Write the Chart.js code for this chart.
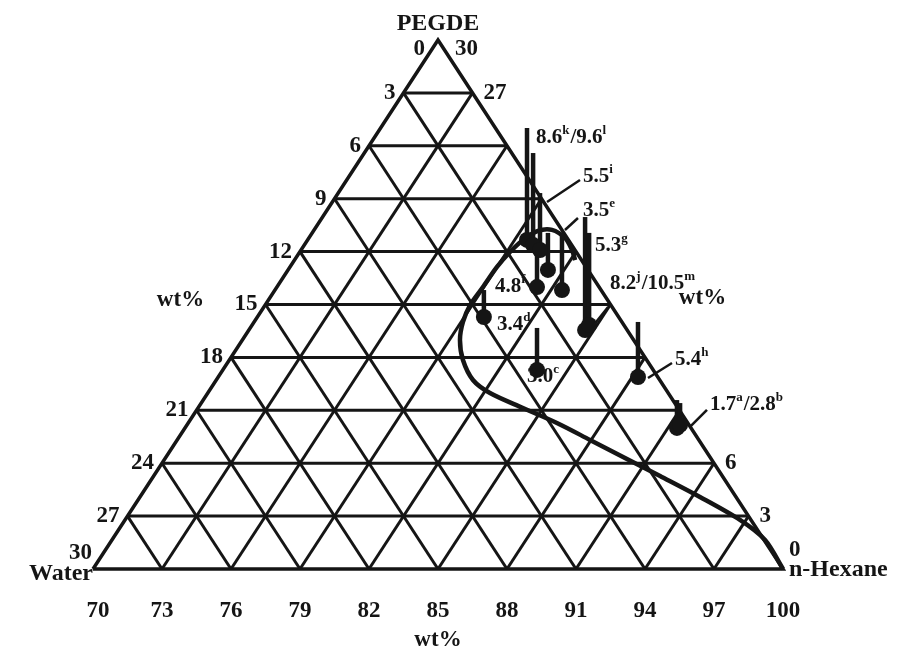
<!DOCTYPE html>
<html><head><meta charset="utf-8">
<script src="https://cdn.jsdelivr.net/npm/chart.js@4/dist/chart.umd.min.js"></script>
<style>html,body{margin:0;padding:0;background:#fff}canvas{display:block}</style>
</head><body>
<canvas id="c" width="907" height="656"></canvas>
<script>
// ---- data (wt%) ----
const gridLevels = [3, 6, 9, 12, 15, 18, 21, 24, 27];
const waterTicks = [0, 3, 6, 9, 12, 15, 18, 21, 24, 27, 30];
const pegdeTicks = [30, 27, 6, 3, 0];
const hexaneTicks = [70, 73, 76, 79, 82, 85, 88, 91, 94, 97, 100];

// binodal curve (n-Hexane wt%, PEGDE wt%)
const curveHexane = [100, 98.4, 96.74, 94.35, 92.02, 89.98, 87.95, 86.03, 84.13, 82.27, 81.16, 80.16, 79.46, 79.08, 78.91, 78.96, 79.0, 79.14, 79.37, 79.76, 80.34, 81.14, 81.78, 82.2];
const curvePEGDE  = [0, 1.64, 2.78, 4.08, 5.27, 6.30, 7.32, 8.28, 9.13, 9.98, 10.72, 11.85, 12.99, 14.01, 14.97, 15.99, 17.13, 17.98, 18.66, 19.17, 19.23, 18.77, 18.09, 17.52];

// experimental points
const pointNames   = ['8.6k', '9.6l', '5.5i', '5.3g', '3.5e', '4.8f', '8.2j', '10.5m', '3.4d', '3.0c', '5.4h', '1.7a', '2.8b'];
const pointHexane  = [79.54, 79.95, 80.39, 81.30, 82.48, 81.31, 84.62, 84.65, 79.85, 83.66, 88.25, 91.39, 91.44];
const pointPEGDE   = [18.66, 18.37, 18.09, 16.96, 15.82, 15.99, 13.55, 13.84, 14.29, 11.29, 10.89, 8.00, 8.17];
const barTopPEGDE  = [25.01, 23.59, 21.32, 19.06, 19.06, 18.66, 19.96, 19.06, 15.82, 13.67, 14.01, 9.58, 9.41];

// ---- rendering ----
const FONT = '"Liberation Serif", "Times New Roman", serif';
const INK = '#151515';
function toXY(h, p) { return { x: h - 70 + p / 2, y: p }; }

const layers = []; // in drawing order (bottom first)
function line(pts, w, extra) {
  layers.push(Object.assign({ data: pts, showLine: true, borderColor: INK, backgroundColor: INK,
    borderWidth: w, pointRadius: 0, tension: 0, clip: false, fill: false }, extra || {}));
}
// grid
gridLevels.forEach(v => {
  line([toXY(70, v), toXY(100 - v, v)], 3);          // PEGDE constant
  line([toXY(70 + v, 0), toXY(70 + v, 30 - v)], 3);  // hexane constant
  line([toXY(100 - v, 0), toXY(70, 30 - v)], 3);     // water constant
});
// border
line([toXY(70, 0), toXY(100, 0), toXY(70, 30), toXY(70, 0)], 3.5);
// curve
line(curveHexane.map((h, i) => toXY(h, curvePEGDE[i])), 4.5, { tension: 0.3 });
// bars
pointHexane.forEach((h, i) => {
  const a = toXY(h, pointPEGDE[i]);
  line([a, { x: a.x, y: barTopPEGDE[i] }], 4.5);
});
// dots
layers.push({ data: pointHexane.map((h, i) => toXY(h, pointPEGDE[i])), showLine: false,
  pointRadius: 8, pointBackgroundColor: INK, pointBorderColor: INK, borderWidth: 0, clip: false });

// labels anchored to points: [text, point index, dx, dy, leader]
const dataLabels = [
  ['8.6^k/9.6^l', 0, 9, -102, null],
  ['5.5^i', 2, 43, -73, [7, -48, 40, -70]],
  ['3.5^e', 4, 21, -79, [3, -60, 16, -72]],
  ['5.3^g', 6, 10, -84, null],
  ['4.8^f', 5, -42, 0, null],
  ['8.2^j/10.5^m', 6, 25, -46, [7, -3, 23, -23]],
  ['3.4^d', 8, 13, 8, null],
  ['3.0^c', 9, -10, 7, null],
  ['5.4^h', 10, 37, -17, [10, 1, 34, -14]],
  ['1.7^a/2.8^b', 11, 33, -23, [13, -1, 30, -18]]
];

function drawRich(ctx, text, x, y, size) {
  let cx = x;
  for (let i = 0; i < text.length; i++) {
    if (text[i] === '^') {
      const ch = text[++i];
      ctx.font = 'bold ' + Math.round(size * 0.6) + 'px ' + FONT;
      ctx.fillText(ch, cx, y - size * 0.35);
      cx += ctx.measureText(ch).width + 1;
    } else {
      ctx.font = 'bold ' + size + 'px ' + FONT;
      ctx.fillText(text[i], cx, y);
      cx += ctx.measureText(text[i]).width;
    }
  }
}

const textPlugin = {
  id: 'ternText',
  afterDraw(chart) {
    const ctx = chart.ctx, xs = chart.scales.x, ys = chart.scales.y;
    const px = (h, p) => { const q = toXY(h, p); return [xs.getPixelForValue(q.x), ys.getPixelForValue(q.y)]; };
    ctx.save();
    ctx.fillStyle = INK; ctx.strokeStyle = INK;
    ctx.textBaseline = 'middle';
    const num = 'bold 23px ' + FONT, word = 'bold 24px ' + FONT;
    // left: water
    ctx.font = num; ctx.textAlign = 'right';
    waterTicks.forEach(w => {
      const [x, y] = px(70, 30 - w);
      if (w === 0) ctx.fillText(String(w), x - 13, y + 9);
      else if (w === 30) ctx.fillText(String(w), x - 1, y - 16);
      else ctx.fillText(String(w), x - 8, y);
    });
    // right: PEGDE
    ctx.textAlign = 'left';
    pegdeTicks.forEach(p => {
      const [x, y] = px(100 - p, p);
      if (p === 30) ctx.fillText(String(p), x + 17, y + 9);
      else if (p === 0) ctx.fillText(String(p), x + 6, y - 19);
      else ctx.fillText(String(p), x + 11, y);
    });
    // bottom: hexane
    ctx.textAlign = 'center';
    hexaneTicks.forEach(h => {
      const [x, y] = px(h, 0);
      ctx.fillText(String(h), x + (h === 70 ? 5 : 0), y + 42);
    });
    // names
    ctx.font = word;
    let [ax, ay] = px(70, 30);
    ctx.textAlign = 'center'; ctx.fillText('PEGDE', ax, ay - 16);
    let [wx, wy] = px(70, 0);
    ctx.textAlign = 'right'; ctx.fillText('Water', wx, wy + 5);
    let [hx, hy] = px(100, 0);
    ctx.textAlign = 'left'; ctx.fillText('n-Hexane', hx + 6, hy + 1);
    ctx.font = num; ctx.textAlign = 'center';
    let [bx, by] = px(85, 0); ctx.fillText('wt%', bx, by + 71);
    let [lx, ly] = px(70, 15); ctx.fillText('wt%', lx - 85, ly - 4);
    let [rx, ry] = px(85, 15); ctx.fillText('wt%', rx + 92, ry - 6);
    // data labels
    ctx.textAlign = 'left';
    dataLabels.forEach(([t, i, dx, dy, ld]) => {
      const [x, y] = px(pointHexane[i], pointPEGDE[i]);
      drawRich(ctx, t, x + dx, y + dy, 21);
      if (ld) {
        ctx.lineWidth = 2.5; ctx.beginPath();
        ctx.moveTo(x + ld[0], y + ld[1]); ctx.lineTo(x + ld[2], y + ld[3]); ctx.stroke();
      }
    });
    ctx.restore();
  }
};

new Chart(document.getElementById('c'), {
  type: 'scatter',
  data: { datasets: layers.slice().reverse() },
  options: {
    responsive: false, animation: false, devicePixelRatio: 1,
    layout: { padding: { left: 93, right: 124, top: 40, bottom: 87 } },
    plugins: { legend: { display: false }, tooltip: { enabled: false } },
    scales: {
      x: { type: 'linear', min: 0, max: 30, display: false },
      y: { type: 'linear', min: 0, max: 30, display: false }
    }
  },
  plugins: [textPlugin]
});
</script>
</body></html>
